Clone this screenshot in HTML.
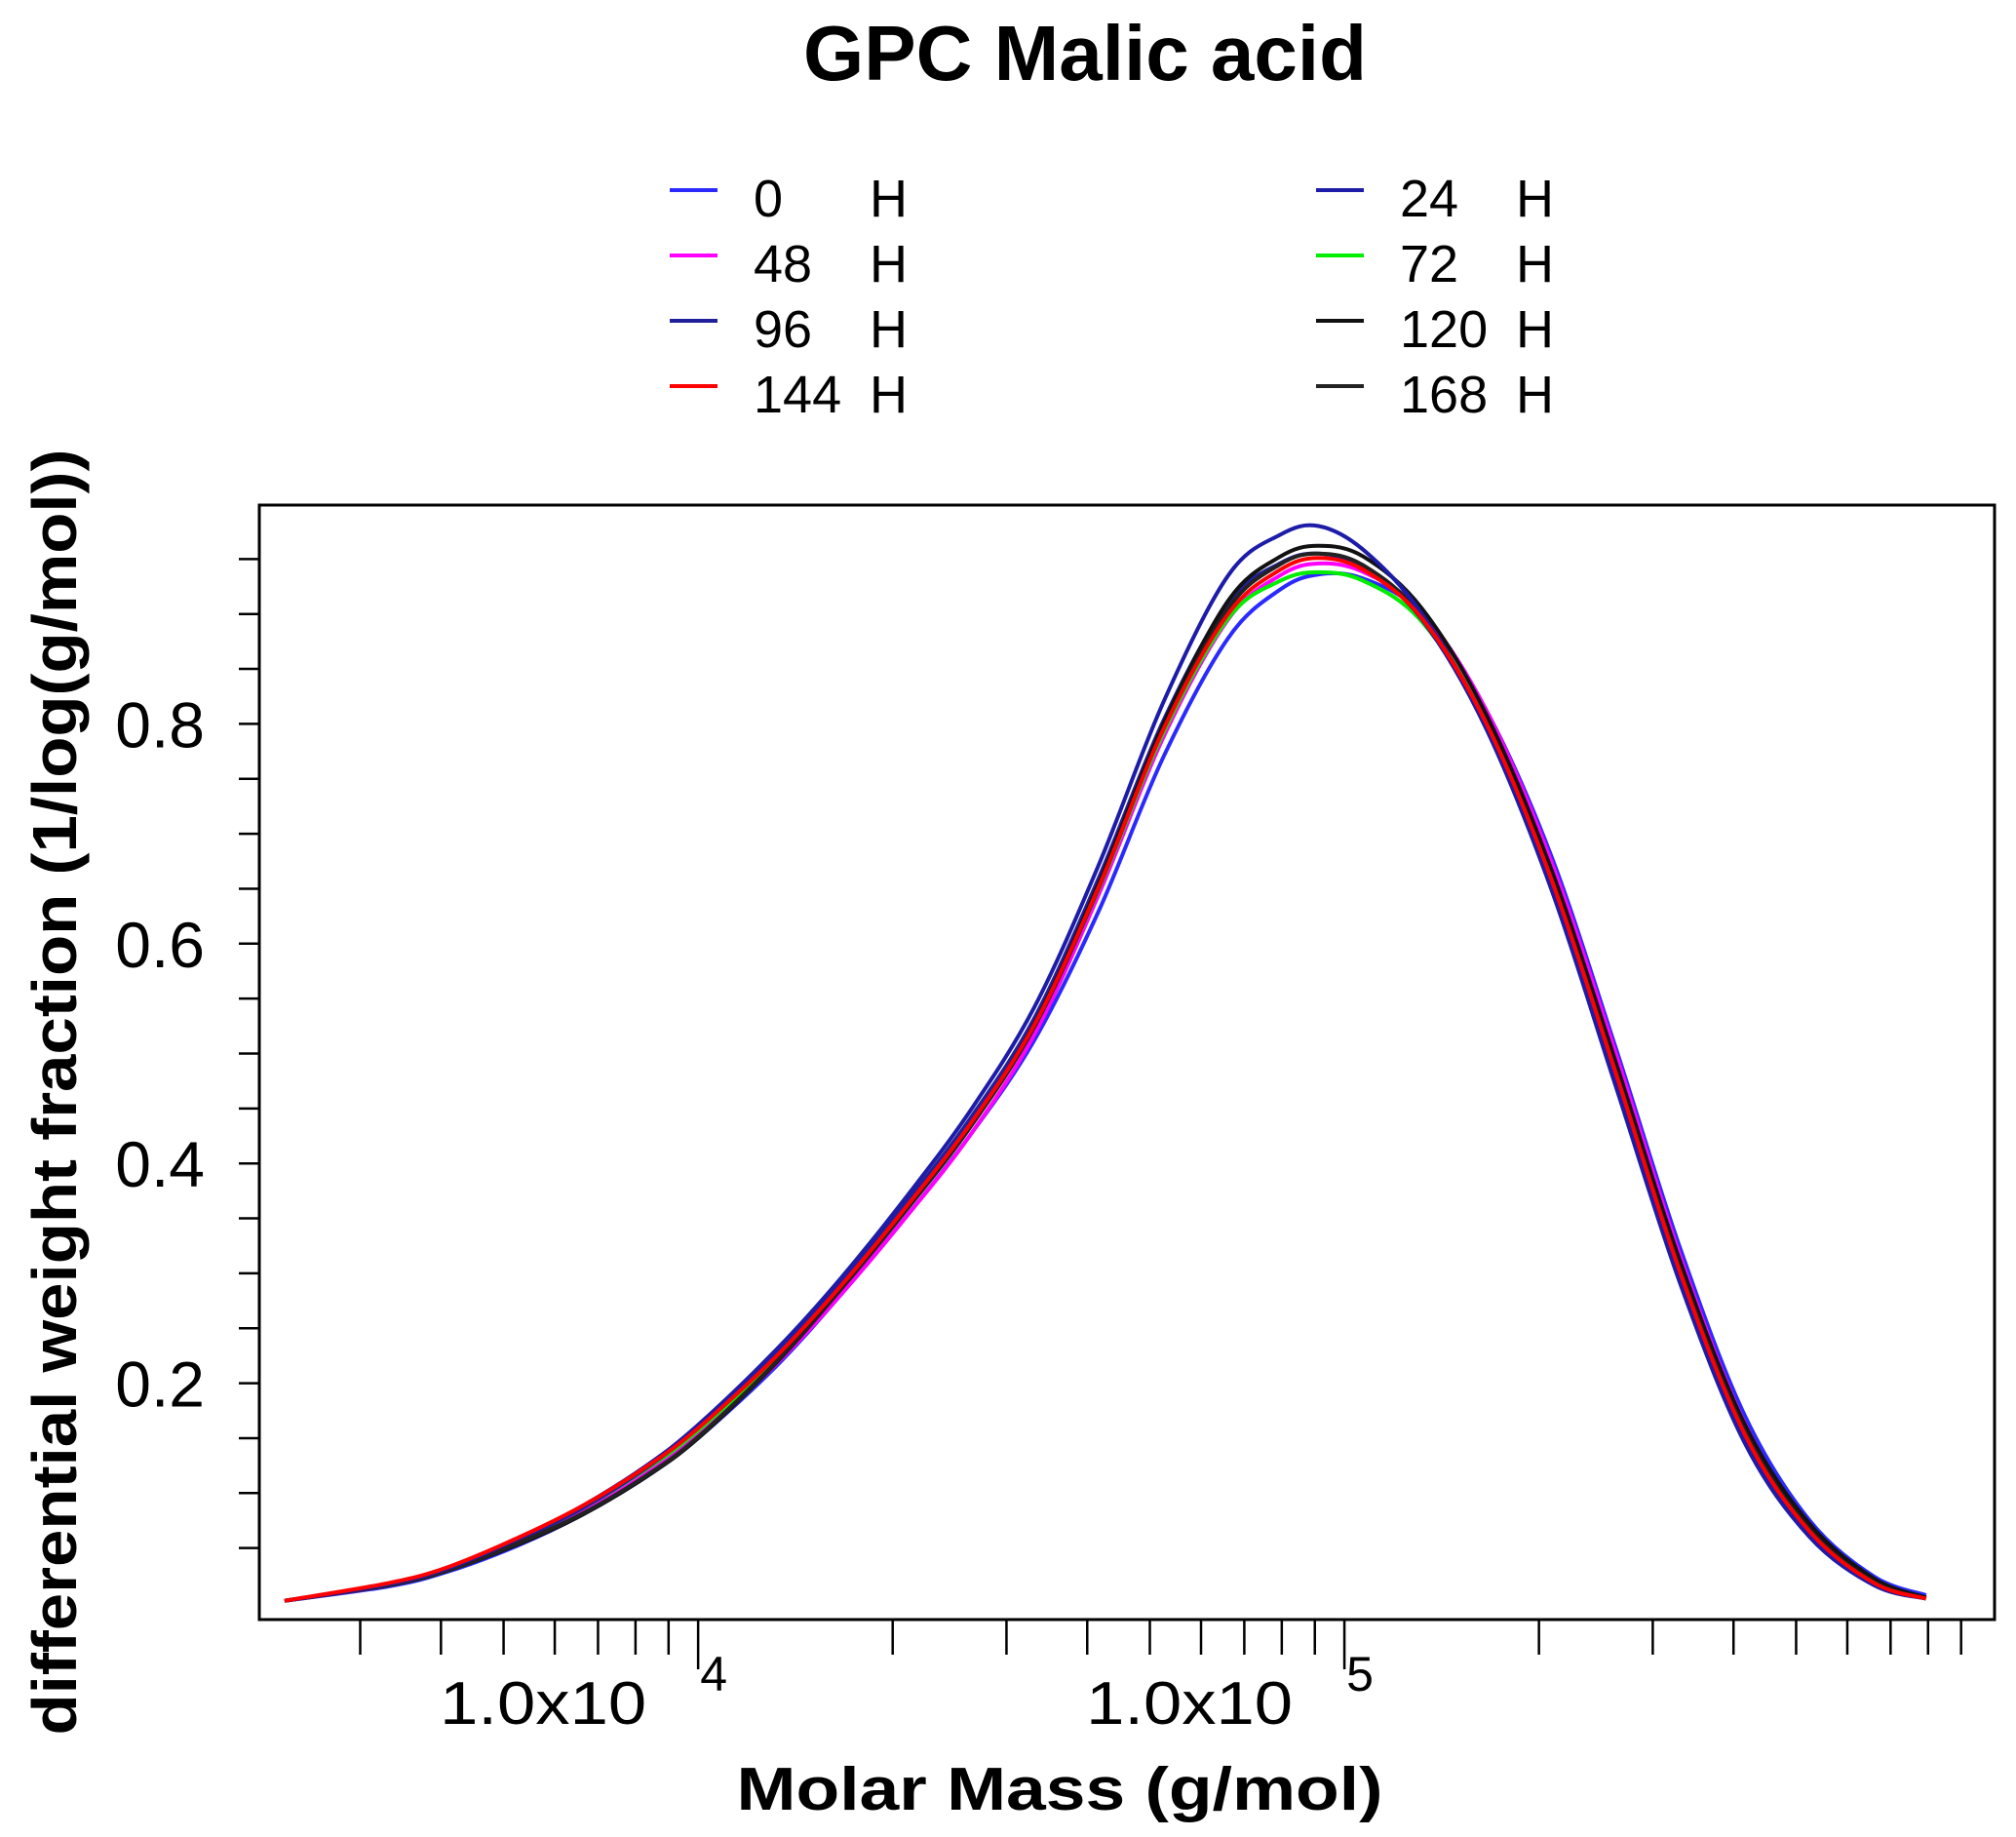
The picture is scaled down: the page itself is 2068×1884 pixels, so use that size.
<!DOCTYPE html>
<html><head><meta charset="utf-8"><title>GPC Malic acid</title>
<style>
html,body{margin:0;padding:0;background:#fff;}
svg{display:block;font-family:"Liberation Sans",sans-serif;}
</style></head>
<body>
<svg id="chart" width="2068" height="1884" viewBox="0 0 2068 1884" xmlns="http://www.w3.org/2000/svg">
<rect width="2068" height="1884" fill="#fff"/>
<text x="1113" y="82" font-size="80" font-weight="bold" text-anchor="middle">GPC Malic acid</text>
<g id="legend"></g>
<g id="plot"></g>
<rect x="266" y="518" width="1780" height="1143" fill="none" stroke="#000" stroke-width="3"/>
<g id="axes"></g>
<text transform="translate(78,1120) rotate(-90)" font-size="64" font-weight="bold" text-anchor="middle" textLength="1319" lengthAdjust="spacingAndGlyphs">differential weight fraction (1/log(g/mol))</text>
<text x="1087" y="1856" font-size="62" font-weight="bold" text-anchor="middle" textLength="663" lengthAdjust="spacingAndGlyphs">Molar Mass (g/mol)</text>
</svg>
<script>
const logMass = [3.36,3.52,3.61,3.72,3.82,3.92,4.0,4.12,4.22,4.32,4.42,4.52,4.62,4.72,4.82,4.90,4.96,5.03,5.12,5.22,5.32,5.42,5.52,5.62,5.72,5.82,5.90];
const seriesNames = ["0 H","24 H","48 H","72 H","96 H","120 H","144 H","168 H"];
const h0   = [0.002,0.015,0.028,0.052,0.080,0.115,0.150,0.215,0.280,0.350,0.425,0.512,0.630,0.770,0.878,0.922,0.936,0.932,0.900,0.812,0.680,0.505,0.322,0.170,0.075,0.024,0.007];
const h24  = [0.002,0.017,0.031,0.058,0.088,0.125,0.162,0.230,0.295,0.368,0.447,0.542,0.672,0.820,0.935,0.972,0.980,0.958,0.900,0.795,0.650,0.470,0.290,0.145,0.060,0.016,0.004];
const h48  = [0.002,0.016,0.030,0.055,0.083,0.118,0.153,0.217,0.280,0.350,0.425,0.517,0.645,0.788,0.895,0.935,0.946,0.938,0.902,0.812,0.675,0.500,0.315,0.163,0.070,0.020,0.005];
const h72  = [0.002,0.017,0.031,0.057,0.086,0.122,0.157,0.222,0.287,0.358,0.434,0.525,0.650,0.792,0.896,0.930,0.938,0.930,0.893,0.800,0.660,0.484,0.302,0.155,0.066,0.019,0.004];
const h96  = [0.002,0.017,0.031,0.057,0.086,0.123,0.160,0.226,0.292,0.363,0.440,0.532,0.660,0.803,0.910,0.946,0.955,0.942,0.895,0.795,0.650,0.472,0.292,0.148,0.062,0.017,0.004];
const h120 = [0.002,0.016,0.029,0.053,0.080,0.115,0.150,0.218,0.285,0.357,0.434,0.527,0.655,0.800,0.912,0.952,0.962,0.952,0.905,0.808,0.668,0.492,0.310,0.162,0.072,0.022,0.005];
const h144 = [0.002,0.018,0.032,0.059,0.088,0.124,0.159,0.224,0.288,0.359,0.435,0.526,0.652,0.795,0.900,0.940,0.951,0.940,0.896,0.800,0.659,0.482,0.300,0.153,0.065,0.018,0.004];
const h168 = [0.002,0.016,0.029,0.054,0.081,0.116,0.151,0.219,0.285,0.356,0.432,0.524,0.651,0.796,0.905,0.945,0.955,0.944,0.898,0.800,0.660,0.484,0.303,0.156,0.067,0.019,0.004];
const yTickLabels = ["0.2","0.4","0.6","0.8"];
const yTickValues = [0.2,0.4,0.6,0.8];
const xMajorLabels = ["4","5"];

const NS = "http://www.w3.org/2000/svg";
const colors = ["#2a2aff","#1c1ca8","#ff00ff","#00ee00","#20209a","#111111","#ff0000","#222222"];
const allSeries = [h0,h24,h48,h72,h96,h120,h144,h168];
const drawOrder = [0,2,3,4,5,7,1,6];

const plotL=266, plotR=2046, plotT=518, plotB=1661;
const xLogMin=3.321, xLogMax=6.006;
function xScale(lg){return plotL+(lg-xLogMin)/(xLogMax-xLogMin)*(plotR-plotL);}
function yScale(v){return 1644 - v*1127;}

function mk(tag, attrs){const e=document.createElementNS(NS,tag);for(const k in attrs)e.setAttribute(k,attrs[k]);return e;}

function smoothPath(pts){
  let d="M"+pts[0][0].toFixed(1)+","+pts[0][1].toFixed(1);
  for(let i=0;i<pts.length-1;i++){
    const p0=pts[i-1]||pts[i],p1=pts[i],p2=pts[i+1],p3=pts[i+2]||p2;
    const c1x=p1[0]+(p2[0]-p0[0])/6,c1y=p1[1]+(p2[1]-p0[1])/6;
    const c2x=p2[0]-(p3[0]-p1[0])/6,c2y=p2[1]-(p3[1]-p1[1])/6;
    d+=" C"+c1x.toFixed(1)+","+c1y.toFixed(1)+" "+c2x.toFixed(1)+","+c2y.toFixed(1)+" "+p2[0].toFixed(1)+","+p2[1].toFixed(1);
  }
  return d;
}

const plot=document.getElementById("plot");
drawOrder.forEach(i=>{
  const vals=allSeries[i];
  const pts=logMass.map((lg,j)=>[xScale(lg),yScale(vals[j])]);
  const p=mk("path",{d:smoothPath(pts),fill:"none",stroke:colors[i],"stroke-width":"4"});
  
  
  plot.appendChild(p);
});

const legend=document.getElementById("legend");
seriesNames.forEach((name,i)=>{
  const col=i%2, row=Math.floor(i/2);
  const lx=col?1350:687, ly=195+row*67;
  const g=mk("g",{});
  
  
  g.appendChild(mk("line",{x1:lx,y1:ly,x2:lx+49,y2:ly,stroke:colors[i],"stroke-width":"4"}));
  const t1=mk("text",{x:lx+86,y:ly+27,"font-size":"54"});t1.textContent=name.split(" ")[0];
  const t2=mk("text",{x:lx+205,y:ly+27,"font-size":"54"});t2.textContent="H";
  g.appendChild(t1);g.appendChild(t2);
  legend.appendChild(g);
});

const axes=document.getElementById("axes");
for(let k=1;k<=19;k++){
  const v=k*0.05, y=yScale(v);
  if(y<plotT+5) continue;
  const t=mk("line",{x1:245,y1:y,x2:266,y2:y,stroke:"#000","stroke-width":"2.5"});
  
  
  axes.appendChild(t);
}
yTickValues.forEach((v,i)=>{
  const t=mk("text",{x:210,y:yScale(v)+24,"font-size":"66","text-anchor":"end"});
  t.textContent=yTickLabels[i];
  
  
  axes.appendChild(t);
});
for(let dec=3;dec<=5;dec++){
  for(let m=1;m<=9;m++){
    const lg=dec+Math.log10(m);
    const x=xScale(lg);
    if(x<plotL+5||x>plotR-5) continue;
    const t=mk("line",{x1:x,y1:plotB,x2:x,y2:m===1?1712:1697,stroke:"#000","stroke-width":"2.5"});
    
    
    axes.appendChild(t);
  }
}
[4,5].forEach((dec,i)=>{
  const x=xScale(dec);
  const t=mk("text",{x:x-159,y:1768,"font-size":"62","text-anchor":"middle",textLength:"212",lengthAdjust:"spacingAndGlyphs"});
  t.textContent="1.0x10";
  
  
  axes.appendChild(t);
  const s=mk("text",{x:x+16,y:1734,"font-size":"50","text-anchor":"middle"});
  s.textContent=xMajorLabels[i];
  
  
  axes.appendChild(s);
});
</script>
</body></html>
